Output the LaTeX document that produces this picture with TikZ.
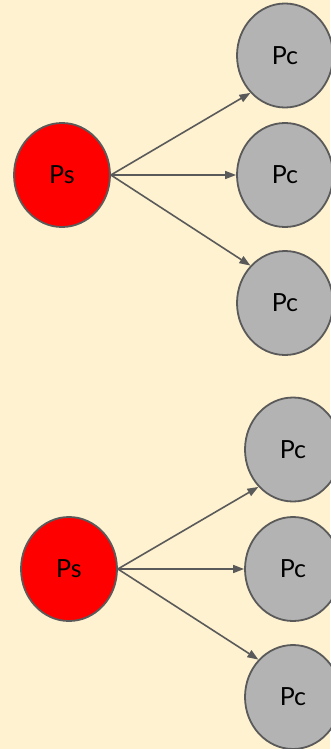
\documentclass[tikz,border=0pt]{standalone}
\usepackage{fontspec}
\setmainfont{Lato}
\usetikzlibrary{shapes.geometric,arrows.meta}
\definecolor{bgcream}{HTML}{FFF2D0}
\definecolor{strokegray}{HTML}{5A5A5A}
\definecolor{pcgray}{HTML}{B3B3B3}
\definecolor{psred}{HTML}{FF0000}
\tikzset{
  proc/.style={ellipse, draw=strokegray, line width=1.8pt, minimum width=96pt, minimum height=104pt, inner sep=0pt, font=\fontsize{25}{28}\selectfont, text=black},
  psnode/.style={proc, fill=psred},
  pcnode/.style={proc, fill=pcgray},
  conn/.style={draw=strokegray, line width=1.6pt, -{Triangle[length=11pt,width=8pt]}}
}
\begin{document}
\begin{tikzpicture}[x=1pt,y=-1pt]
\fill[bgcream] (0,0) rectangle (330,749);
\useasboundingbox (0,0) rectangle (330,749);
% top group
\node[psnode] (psA) at (62,175) {Ps};
\node[pcnode] (pcA1) at (285,55.5) {Pc};
\node[pcnode] (pcA2) at (285,175) {Pc};
\node[pcnode] (pcA3) at (285,303) {Pc};
\draw[conn] (psA.east) -- (pcA1.south west);
\draw[conn] (psA.east) -- (pcA2.west);
\draw[conn] (psA.east) -- (pcA3.north west);
% bottom group
\node[psnode] (psB) at (69,569) {Ps};
\node[pcnode] (pcB1) at (293,449.5) {Pc};
\node[pcnode] (pcB2) at (293,569) {Pc};
\node[pcnode] (pcB3) at (293,697) {Pc};
\draw[conn] (psB.east) -- (pcB1.south west);
\draw[conn] (psB.east) -- (pcB2.west);
\draw[conn] (psB.east) -- (pcB3.north west);
\end{tikzpicture}
\end{document}
